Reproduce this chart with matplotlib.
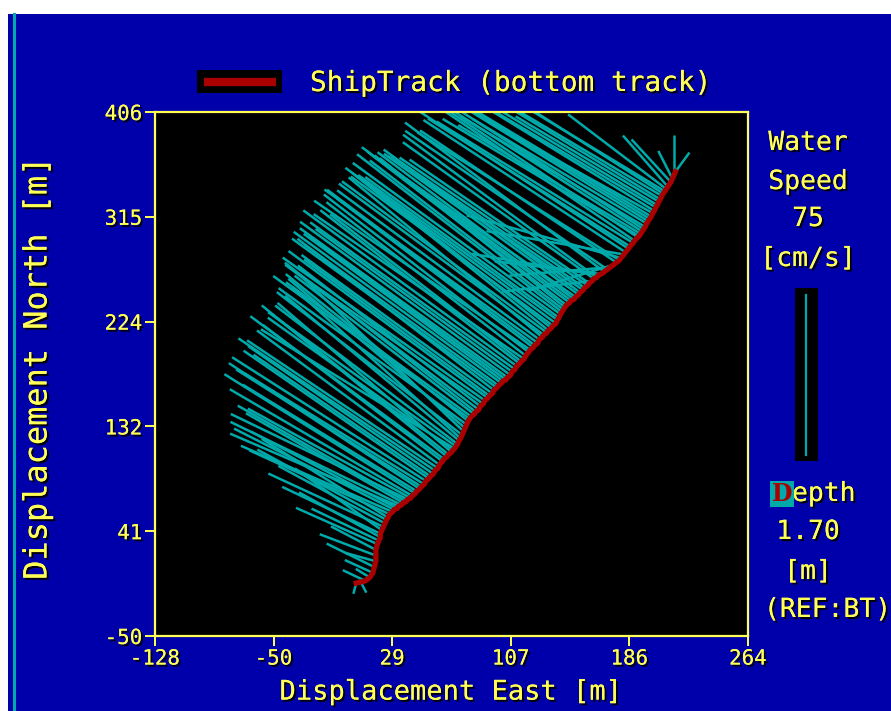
import numpy as np
import matplotlib
matplotlib.use("Agg")
import matplotlib.pyplot as plt
import matplotlib.patheffects as pe
from matplotlib.patches import Rectangle
from matplotlib.lines import Line2D

# ship track (bottom track), displacement in m
track_east = [5, 8, 11, 14, 16, 17, 18, 18, 18, 19,
              20, 21, 21, 22, 23, 24, 25, 26, 27, 29,
              30, 32, 33, 35, 36, 38, 39, 41, 42, 44,
              45, 47, 48, 50, 51, 53, 54, 56, 57, 59,
              60, 62, 63, 65, 66, 68, 69, 70, 71, 72,
              73, 74, 75, 76, 77, 78, 79, 80, 81, 83,
              84, 86, 87, 89, 90, 92, 93, 95, 96, 98,
              99, 101, 102, 104, 105, 107, 108, 110, 111, 113,
              114, 116, 117, 119, 120, 122, 123, 125, 126, 128,
              129, 131, 132, 134, 135, 137, 138, 139, 140, 141,
              142, 143, 144, 146, 147, 149, 150, 152, 153, 155,
              156, 158, 159, 161, 162, 164, 165, 167, 169, 171,
              173, 175, 177, 179, 180, 182, 183, 185, 186, 188,
              189, 191, 192, 193, 194, 195, 196, 197, 198, 199,
              200, 201, 202, 203, 204, 205, 206, 207, 208, 209,
              210, 211, 213, 214, 215, 216]
track_north = [-4, -3, -2, 1, 5, 10, 15, 20, 25, 30,
               33, 36, 39, 42, 45, 48, 51, 53, 56, 58,
               60, 61, 63, 64, 66, 67, 69, 70, 72, 74,
               76, 78, 80, 82, 85, 87, 89, 91, 94, 96,
               99, 102, 104, 106, 108, 110, 112, 113, 115, 117,
               120, 122, 125, 128, 131, 134, 137, 139, 141, 143,
               145, 147, 150, 152, 155, 157, 159, 161, 164, 166,
               168, 170, 172, 173, 175, 177, 180, 182, 185, 187,
               189, 191, 194, 197, 199, 201, 203, 205, 208, 210,
               212, 214, 216, 218, 220, 222, 225, 227, 230, 232,
               234, 236, 238, 240, 242, 243, 245, 247, 249, 251,
               253, 255, 257, 259, 261, 262, 264, 265, 267, 269,
               271, 273, 275, 277, 279, 282, 284, 287, 289, 292,
               294, 297, 298, 300, 302, 304, 306, 309, 311, 313,
               315, 318, 320, 323, 325, 328, 330, 333, 335, 337,
               339, 341, 345, 348, 351, 354]

# water velocity per ensemble, cm/s
vel_east = [-1, 2, -8, -5, -10, -17, -11, -20, -16, -29,
            -24, -29, -35, -31, -41, -38, -46, -45, -50, -54,
            -57, -52, -60, -61, -56, -60, -63, -58, -65, -68,
            -62, -68, -66, -64, -69, -66, -63, -66, -70, -68,
            -65, -64, -69, -66, -63, -62, -66, -69, -67, -65,
            -62, -60, -66, -58, -63, -67, -65, -70, -66, -64,
            -68, -69, -65, -67, -72, -71, -66, -68, -70, -73,
            -69, -74, -71, -70, -74, -75, -70, -73, -76, -71,
            -68, -75, -71, -73, -77, -70, -74, -76, -72, -69,
            -73, -73, -70, -67, -72, -75, -71, -69, -74, -73,
            -69, -66, -71, -74, -70, -70, -72, -68, -70, -71,
            -69, -67, -64, -32, -68, -69, -45, -38, -71, -72,
            -36, -30, -70, -72, -55, -49, -72, -74, -72, -70,
            -69, -67, -70, -65, -69, -73, -66, -62, -70, -67,
            -63, -59, -68, -65, -58, -51, -60, -59, -50, -54,
            -35, -16, -14, -5, 0, 5]
vel_north = [-5, -5, 5, 4, 6, 11, 4, 10, 11, 17,
             15, 21, 22, 29, 25, 27, 33, 37, 30, 31,
             38, 36, 34, 39, 42, 45, 40, 42, 50, 56,
             50, 59, 55, 52, 58, 60, 57, 60, 62, 60,
             63, 64, 67, 71, 66, 70, 62, 56, 63, 65,
             68, 71, 67, 73, 70, 64, 69, 67, 63, 65,
             70, 68, 66, 62, 67, 69, 64, 65, 71, 70,
             66, 71, 69, 67, 70, 72, 67, 69, 73, 72,
             69, 68, 72, 74, 70, 70, 73, 72, 70, 75,
             71, 71, 74, 69, 70, 73, 68, 66, 71, 74,
             70, 70, 72, 73, 68, 69, 66, 65, 67, 64,
             62, 60, 58, -5, 64, 67, 10, 6, 70, 65,
             -4, -12, 62, 60, 20, 11, 62, 64, 60, 57,
             62, 59, 55, 51, 58, 62, 52, 49, 57, 54,
             50, 43, 55, 51, 46, 40, 48, 46, 42, 43,
             35, 24, 20, 13, 19, 9]

speed_ref = 75       # cm/s shown on the scale bar
stick_scale = 1.855  # m of plot per cm/s
depth_text = "1.70"

xticks = [-128, -50, 29, 107, 186, 264]
yticks = [-50, 41, 132, 224, 315, 406]

BLUE = "#0000AA"
YEL = "#FFFF55"
CYAN = "#00AAAA"
RED = "#AA0000"
FONT = "DejaVu Sans Mono"
shadow = [pe.withSimplePatchShadow(offset=(1.5, -1.5), shadow_rgbFace="black", alpha=0.9), pe.Normal()]

W, H = 891, 711
fig = plt.figure(figsize=(W / 100, H / 100), dpi=100, facecolor="white")

def fx(px):
    return px / W

def fy(py):
    return 1 - py / H

# blue screen background and cyan margin line
fig.patches.append(Rectangle((fx(8), 0), 1, fy(14), transform=fig.transFigure,
                             facecolor=BLUE, edgecolor="none", zorder=-10))
fig.lines.append(Line2D([fx(14), fx(14)], [0, fy(14)], transform=fig.transFigure,
                        color=CYAN, lw=2.2, zorder=-5))

ax = fig.add_axes([fx(155), fy(636), fx(748) - fx(155), fy(112) - fy(636)])
ax.set_zorder(5)
ax.set_facecolor("black")

te = np.array(track_east, float)
tn = np.array(track_north, float)
ve = np.array(vel_east, float) * stick_scale
vn = np.array(vel_north, float) * stick_scale

for e, n, de, dn in zip(te, tn, ve, vn):
    ax.plot([e, e + de], [n, n + dn], color=CYAN, lw=1.8, solid_capstyle="butt", zorder=2)

ax.plot(te, tn, color=RED, lw=3.8, solid_joinstyle="round", zorder=3)

ax.set_xlim(xticks[0], xticks[-1])
ax.set_ylim(yticks[0], yticks[-1])
ax.set_xticks(np.linspace(xticks[0], xticks[-1], 6))
ax.set_xticklabels([str(v) for v in xticks])
ax.set_yticks(np.linspace(yticks[0], yticks[-1], 6))
ax.set_yticklabels([str(v) for v in yticks])
for s in ax.spines.values():
    s.set_color(YEL)
    s.set_linewidth(1.6)
ax.tick_params(colors=YEL, length=7, width=1.4, direction="out", pad=2)
for lab in ax.get_xticklabels() + ax.get_yticklabels():
    lab.set_fontfamily(FONT)
    lab.set_fontsize(15)
    lab.set_color(YEL)
    lab.set_path_effects(shadow)

ax.set_xlabel("Displacement East [m]", fontfamily=FONT, fontsize=19.5, color=YEL,
              labelpad=8, path_effects=shadow)
fig.text(fx(38), fy(368), "Displacement North [m]", rotation=90, ha="center", va="center",
         fontfamily=FONT, fontsize=23, color=YEL, path_effects=shadow)

# legend
fig.patches.append(Rectangle((fx(197), fy(93)), fx(282) - fx(197), fy(70) - fy(93),
                             transform=fig.transFigure, facecolor="black", edgecolor="none"))
fig.lines.append(Line2D([fx(204), fx(276)], [fy(82), fy(82)], transform=fig.transFigure,
                        color=RED, lw=6, solid_capstyle="butt"))
fig.text(fx(310), fy(83), "ShipTrack (bottom track)", ha="left", va="center",
         fontfamily=FONT, fontsize=20, color=YEL, path_effects=shadow)

# right side panel
def side(py, s, **kw):
    fig.text(fx(808), fy(py), s, ha="center", va="center", fontfamily=FONT,
             fontsize=19, color=YEL, path_effects=shadow, **kw)

side(143, "Water")
side(182, "Speed")
side(219, str(speed_ref))
side(259, "[cm/s]")

fig.patches.append(Rectangle((fx(795), fy(461)), fx(818) - fx(795), fy(288) - fy(461),
                             transform=fig.transFigure, facecolor="black", edgecolor="none"))
# scale bar length from the plot's own north scale
p0 = ax.transData.transform((0, 0))
p1 = ax.transData.transform((0, speed_ref * stick_scale))
bar_px = p1[1] - p0[1]
fig.lines.append(Line2D([fx(806), fx(806)], [fy(455), fy(455) + bar_px / H],
                        transform=fig.transFigure, color=CYAN, lw=1.6))

fig.text(fx(792), fy(494), "epth", ha="left", va="center", fontfamily=FONT,
         fontsize=19, color=YEL, path_effects=shadow)
fig.text(fx(782), fy(494), "D", ha="center", va="center", fontfamily="DejaVu Serif",
         fontsize=17, color=RED, fontweight="bold",
         bbox=dict(facecolor=CYAN, edgecolor="none", boxstyle="square,pad=0.06"))
side(532, depth_text)
side(572, "[m]")
fig.text(fx(764), fy(610), "(REF:BT)", ha="left", va="center", fontfamily=FONT,
         fontsize=19, color=YEL, path_effects=shadow)

fig.savefig("out.png", dpi=100, facecolor="white")
